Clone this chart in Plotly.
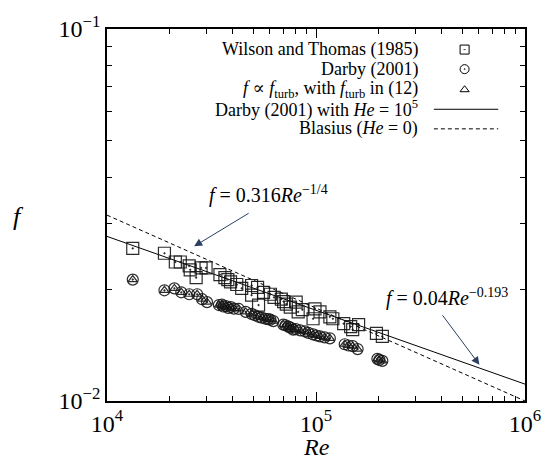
import plotly.graph_objects as go

# ---------------- data ----------------
wt_re = [13280, 18830, 21230, 22420, 24740, 25010, 26700, 28200, 29780, 34700,
         36650, 37860, 41770, 44110, 49190, 49190, 52530, 53110, 56090, 60530,
         68270, 72100, 75320, 80380, 82160, 98900, 96800, 104500, 116500, 120400,
         135700, 146500, 149800, 159900, 194600, 207700, 39000, 63000, 70000, 86000]
wt_f = [0.02573, 0.02496, 0.02364, 0.02364, 0.02307, 0.02252, 0.02146, 0.02279, 0.02279, 0.02185,
        0.02146, 0.02120, 0.02057, 0.02008, 0.02044, 0.01925, 0.02020, 0.01811, 0.01960, 0.01936,
        0.01878, 0.01822, 0.01789, 0.01844, 0.01736, 0.01768, 0.01664, 0.01736, 0.01684, 0.01664,
        0.01614, 0.01585, 0.01556, 0.01604, 0.01519, 0.01492, 0.02090, 0.01900, 0.01850, 0.01760]

darby_re = [13280, 18830, 21010, 22670, 24740, 27000, 28510, 30100, 34310, 37040,
            39130, 42700, 46080, 49190, 53110, 57320, 60530, 69770, 73690, 77820,
            88680, 96800, 104500, 116500, 137200, 149800, 158200, 196700, 207700,
            35500, 36000, 38000, 40500, 51000, 55000, 59000, 62500, 71500, 75500,
            80000, 84000, 92000, 100500, 110000, 143000, 201000]
darby_f = [0.02120, 0.01984, 0.02008, 0.01960, 0.01936, 0.01936, 0.01878, 0.01844, 0.01811, 0.01800,
           0.01789, 0.01768, 0.01736, 0.01715, 0.01684, 0.01664, 0.01654, 0.01604, 0.01585, 0.01556,
           0.01538, 0.01510, 0.01492, 0.01474, 0.01421, 0.01404, 0.01379, 0.01298, 0.01282,
           0.01815, 0.01795, 0.01780, 0.01772, 0.01700, 0.01676, 0.01660, 0.01640, 0.01598, 0.01575,
           0.01560, 0.01548, 0.01525, 0.01500, 0.01483, 0.01410, 0.01290]

turb_re = [13280, 18830, 21010, 22670, 24740, 27000, 28510, 30100, 34310, 37040,
           39130, 42700, 46080, 49190, 53110, 57320, 60530, 69770, 73690, 77820,
           88680, 96800, 104500, 116500, 137200, 149800, 158200, 196700, 207700,
           35500, 36000, 38000, 40500, 51000, 55000, 59000, 62500, 71500, 75500,
           80000, 84000, 92000, 100500, 110000, 143000, 201000]
turb_f = [0.02120, 0.01984, 0.02008, 0.01960, 0.01936, 0.01936, 0.01878, 0.01844, 0.01811, 0.01800,
          0.01789, 0.01768, 0.01736, 0.01715, 0.01684, 0.01664, 0.01654, 0.01604, 0.01585, 0.01556,
          0.01538, 0.01510, 0.01492, 0.01474, 0.01421, 0.01404, 0.01379, 0.01298, 0.01282,
          0.01815, 0.01795, 0.01780, 0.01772, 0.01700, 0.01676, 0.01660, 0.01640, 0.01598, 0.01575,
          0.01560, 0.01548, 0.01525, 0.01500, 0.01483, 0.01410, 0.01290]

darby_line_re = [1e4, 1e6]
darby_line_f = [0.0277, 0.0111]
blasius_re = [1e4, 1e6]
blasius_f = [0.0316, 0.0100]

x_ticks = [1e4, 1e5, 1e6]
x_ticktext = ["10<sup>4</sup>", "10<sup>5</sup>", "10<sup>6</sup>"]
y_ticks = [1e-2, 1e-1]
y_ticktext = ["10<sup>\u22122</sup>", "10<sup>\u22121</sup>"]

legend_labels = [
    "Wilson and Thomas (1985)",
    "Darby (2001)",
    "<i>f</i> \u221d <i>f</i><sub>turb</sub>, with <i>f</i><sub>turb</sub> in (12)",
    "Darby (2001) with <i>He</i> = 10<sup>5</sup>",
    "Blasius (<i>He</i> = 0)",
]

# ---------------- style ----------------
FONT = "'Liberation Serif', 'Times New Roman', Times, 'DejaVu Serif', serif"
MK = "rgba(20,20,20,0.9)"
x_minor = [m * 10 ** d for d in (4, 5) for m in range(2, 10)]
y_minor = [m * 0.01 for m in range(2, 10)]

fig = go.Figure()

fig.add_trace(go.Scatter(x=darby_line_re, y=darby_line_f, mode="lines",
                         line=dict(color="black", width=1), showlegend=False))
fig.add_trace(go.Scatter(x=blasius_re, y=blasius_f, mode="lines",
                         line=dict(color="black", width=1, dash="4px,3px"), showlegend=False))
fig.add_trace(go.Scatter(x=wt_re, y=wt_f, mode="markers",
                         marker=dict(symbol="square-open-dot", size=12, color=MK,
                                     line=dict(color=MK, width=1.2)), showlegend=False))
fig.add_trace(go.Scatter(x=darby_re, y=darby_f, mode="markers",
                         marker=dict(symbol="circle-open-dot", size=11, color=MK,
                                     line=dict(color=MK, width=1.2)), showlegend=False))
fig.add_trace(go.Scatter(x=turb_re, y=turb_f, mode="markers",
                         marker=dict(symbol="triangle-up-open", size=8, color=MK,
                                     line=dict(color=MK, width=1.2)), showlegend=False))

# ---------------- manual legend (text left of key) ----------------
leg_y = [0.9447, 0.8921, 0.8368, 0.7842, 0.7316]
leg_text_x = 0.7464
leg_key_x = 0.8555
for lab, yy in zip(legend_labels, leg_y):
    fig.add_annotation(x=leg_text_x, y=yy, xref="paper", yref="paper", text=lab,
                       showarrow=False, xanchor="right", yanchor="middle", borderpad=0,
                       font=dict(family=FONT, size=18, color="black"))
for sym, sz, yy in [("square-open-dot", 9, leg_y[0]), ("circle-open-dot", 9, leg_y[1]),
                    ("triangle-up-open", 8, leg_y[2])]:
    fig.add_trace(go.Scatter(x=[leg_key_x], y=[yy], xaxis="x2", yaxis="y2", mode="markers",
                             marker=dict(symbol=sym, size=sz, color="black",
                                         line=dict(color="black", width=1)),
                             showlegend=False, hoverinfo="skip"))
fig.add_shape(type="line", xref="paper", yref="paper", x0=0.782, x1=0.936,
              y0=leg_y[3], y1=leg_y[3], line=dict(color="black", width=1))
fig.add_shape(type="line", xref="paper", yref="paper", x0=0.782, x1=0.936,
              y0=leg_y[4], y1=leg_y[4], line=dict(color="black", width=1, dash="4px,3px"))

# ---------------- formula annotations ----------------
fig.add_annotation(x=(195 - 107) / 422, y=(401 - 243) / 380, xref="paper", yref="paper",
                   ax=56, ay=-34, axref="pixel", ayref="pixel",
                   showarrow=True, arrowhead=2, arrowsize=1.6, arrowwidth=1, text="")
fig.add_annotation(x=(208 - 107) / 422, y=(401 - 190) / 380, xref="paper", yref="paper",
                   text="<i>f</i> = 0.316<i>Re</i><sup>\u22121/4</sup>", showarrow=False,
                   xanchor="left", yanchor="middle", font=dict(family=FONT, size=20, color="black"))
fig.add_annotation(x=(483 - 107) / 422, y=(401 - 364) / 380, xref="paper", yref="paper",
                   ax=-38, ay=-51, axref="pixel", ayref="pixel",
                   showarrow=True, arrowhead=2, arrowsize=1.6, arrowwidth=1, text="")
fig.add_annotation(x=(387 - 107) / 422, y=(401 - 295) / 380, xref="paper", yref="paper",
                   text="<i>f</i> = 0.04<i>Re</i><sup>\u22120.193</sup>", showarrow=False,
                   xanchor="left", yanchor="middle", font=dict(family=FONT, size=20, color="black"))

# axis titles placed as annotations
fig.add_annotation(x=(18 - 107) / 422, y=(401 - 213) / 380, xref="paper", yref="paper",
                   text="<i>f</i>", showarrow=False, xanchor="center", yanchor="middle",
                   font=dict(family=FONT, size=26, color="black"))
fig.add_annotation(x=(318 - 107) / 422, y=(401 - 448) / 380, xref="paper", yref="paper",
                   text="<i>Re</i>", showarrow=False, xanchor="center", yanchor="middle",
                   font=dict(family=FONT, size=24, color="black"))

axis_common = dict(showline=True, linecolor="black", linewidth=1.5, mirror="ticks",
                   ticks="inside", tickcolor="black", tickwidth=1, showgrid=False,
                   zeroline=False)

fig.update_layout(
    width=553, height=464,
    margin=dict(l=107, r=24, t=21, b=63),
    paper_bgcolor="white", plot_bgcolor="white",
    font=dict(family=FONT, size=20, color="black"),
    showlegend=False,
    xaxis=dict(type="log", range=[4, 6], tickmode="array", tickvals=x_ticks,
               ticktext=x_ticktext, ticklen=9, tickfont=dict(family=FONT, size=24),
               **axis_common),
    yaxis=dict(type="log", range=[-2, -1], tickmode="array", tickvals=y_ticks,
               ticktext=y_ticktext, ticklen=9, tickfont=dict(family=FONT, size=24),
               **axis_common),
    xaxis3=dict(type="log", range=[4, 6], overlaying="x", anchor="y", tickmode="array",
                tickvals=x_minor, ticklen=5, showticklabels=False, **axis_common),
    yaxis3=dict(type="log", range=[-2, -1], overlaying="y", anchor="x", tickmode="array",
                tickvals=y_minor, ticklen=5, showticklabels=False, **axis_common),
    xaxis2=dict(range=[0, 1], overlaying="x", anchor="y2", visible=False),
    yaxis2=dict(range=[0, 1], overlaying="y", anchor="x2", visible=False),
)

# dummy trace so the minor-tick overlay axes render
fig.add_trace(go.Scatter(x=[1e4], y=[1e-2], xaxis="x3", yaxis="y3", mode="markers",
                         marker=dict(opacity=0), showlegend=False, hoverinfo="skip"))

fig.write_html("out.html")
